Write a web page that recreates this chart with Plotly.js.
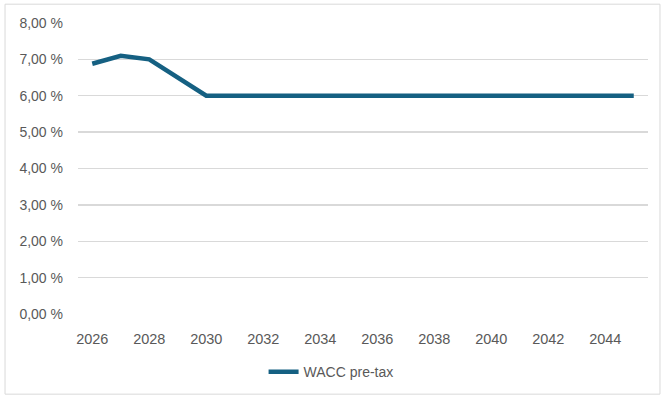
<!DOCTYPE html>
<html><head><meta charset="utf-8">
<script src="https://cdn.plot.ly/plotly-3.0.1.min.js"></script>
<style>html,body{margin:0;padding:0;background:#fff}</style>
</head><body>
<div id="chart" style="width:662px;height:400px"></div>
<script>
const years = [2026,2027,2028,2029,2030,2031,2032,2033,2034,2035,2036,2037,2038,2039,2040,2041,2042,2043,2044,2045];
const wacc = [6.88,7.10,7.00,6.50,6.00,6.00,6.00,6.00,6.00,6.00,6.00,6.00,6.00,6.00,6.00,6.00,6.00,6.00,6.00,6.00];
const yTicks = [0,1,2,3,4,5,6,7,8];
const yLabels = ["0,00 %","1,00 %","2,00 %","3,00 %","4,00 %","5,00 %","6,00 %","7,00 %","8,00 %"];
const xTicks = [2026,2028,2030,2032,2034,2036,2038,2040,2042,2044];

const fam = "Liberation Sans, Arial, sans-serif";
const col = "#595959";
Plotly.newPlot("chart", [{
  x: years, y: wacc, type:"scatter", mode:"lines", name:"WACC pre-tax",
  line:{color:"#156082", width:4.5}
}], {
  width:662, height:400,
  margin:{l:78, r:14, t:23, b:83},
  paper_bgcolor:"#fff", plot_bgcolor:"#fff",
  font: {family:fam, size:14, color:col},
  showlegend:true,
  legend:{orientation:"h", x:0.444, xanchor:"center", y:-0.2, yanchor:"middle", font:{family:fam, size:14, color:col}},
  xaxis:{range:[2025.5,2045.5], tickvals:xTicks, ticktext:xTicks.map(String), showgrid:false, zeroline:false, showline:false, ticks:"", ticklen:0, ticklabelstandoff:14, tickfont:{family:fam, size:14.5, color:col}},
  yaxis:{range:[0,8], tickvals:yTicks, ticktext:yLabels, showgrid:true, gridcolor:"#d9d9d9", gridwidth:1.3, zeroline:false, showline:false, ticks:"", ticklabelstandoff:14, tickfont:{family:fam, size:14, color:col}},
  shapes:[{type:"rect", xref:"paper", yref:"paper", x0:-0.128, x1:1.021, y0:-0.2755, y1:1.0646, line:{color:"#d9d9d9", width:1}, fillcolor:"rgba(0,0,0,0)", layer:"below"}]
}, {displayModeBar:false, staticPlot:true});
</script>
</body></html>
